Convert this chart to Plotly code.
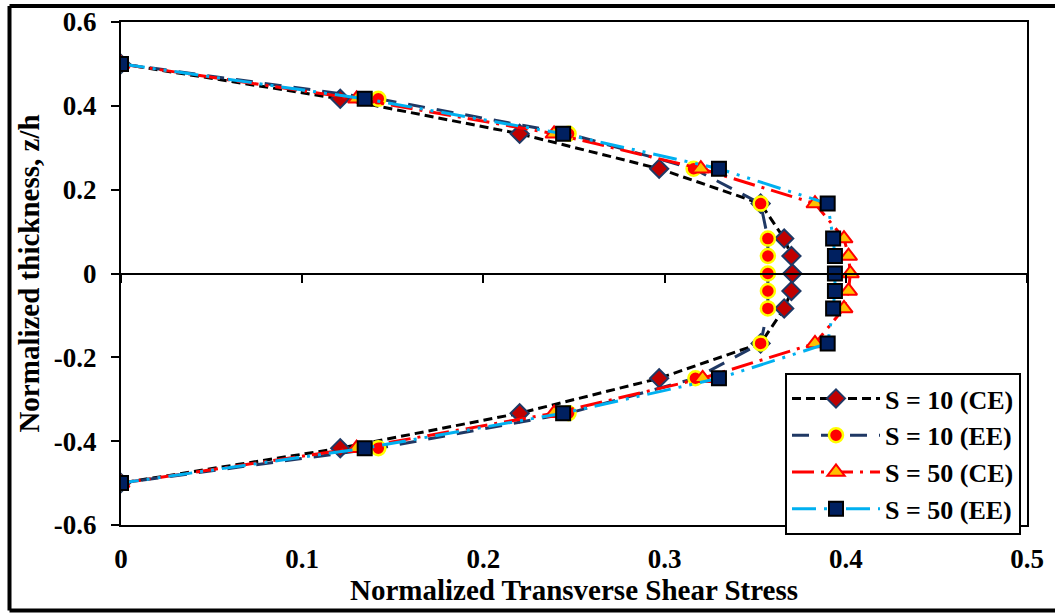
import plotly.graph_objects as go

# ---- data ----
z = [0.5, 0.4167, 0.3333, 0.25, 0.1667, 0.0833, 0.0417, 0.0,
     -0.0417, -0.0833, -0.1667, -0.25, -0.3333, -0.4167, -0.5]
s10_ce = [0.0, 0.121, 0.220, 0.297, 0.353, 0.366, 0.370, 0.3705,
          0.370, 0.366, 0.353, 0.297, 0.220, 0.121, 0.0]
s10_ee = [0.0, 0.142, 0.247, 0.316, 0.353, 0.357, 0.357, 0.357,
          0.357, 0.357, 0.353, 0.317, 0.247, 0.142, 0.0]
s50_ce = [0.0, 0.130, 0.239, 0.320, 0.383, 0.399, 0.4015, 0.4025,
          0.4015, 0.399, 0.383, 0.321, 0.239, 0.130, 0.0]
s50_ee = [0.0, 0.1345, 0.244, 0.330, 0.390, 0.393, 0.394, 0.394,
          0.394, 0.393, 0.390, 0.330, 0.244, 0.1345, 0.0]

names = ["S = 10 (CE)", "S = 10 (EE)", "S = 50 (CE)", "S = 50 (EE)"]
x_tickvals = [0, 0.1, 0.2, 0.3, 0.4, 0.5]
x_ticktext = ["0", "0.1", "0.2", "0.3", "0.4", "0.5"]
y_tickvals = [0.6, 0.4, 0.2, 0, -0.2, -0.4, -0.6]
y_ticktext = ["0.6", "0.4", "0.2", "0", "-0.2", "-0.4", "-0.6"]

FONT = "Liberation Serif"

fig = go.Figure()
fig.add_trace(go.Scatter(
    x=s10_ce, y=z, name=names[0], mode="lines+markers",
    line=dict(color="black", width=3, dash="9px,5px"),
    marker=dict(symbol="diamond", size=14, color="#C00000",
                line=dict(color="#1F3864", width=2))))
fig.add_trace(go.Scatter(
    x=s10_ee, y=z, name=names[1], mode="lines+markers",
    line=dict(color="#1F3864", width=3, dash="17px,12px"),
    marker=dict(symbol="circle", size=14, color="#FF0000",
                line=dict(color="#FFFF00", width=2.5))))
fig.add_trace(go.Scatter(
    x=s50_ce, y=z, name=names[2], mode="lines+markers",
    line=dict(color="#FF0000", width=3, dash="22px,7px,3px,7px"),
    marker=dict(symbol="triangle-up", size=15, color="#FFC000",
                line=dict(color="#FF0000", width=2))))
fig.add_trace(go.Scatter(
    x=s50_ee, y=z, name=names[3], mode="lines+markers",
    line=dict(color="#00B0F0", width=3, dash="24px,8px,3px,8px,3px,8px"),
    marker=dict(symbol="square", size=14, color="#002060",
                line=dict(color="black", width=2))))
# empty trace to materialise the zero-line axis with ticks
fig.add_trace(go.Scatter(x=[], y=[], xaxis="x2", showlegend=False,
                         hoverinfo="skip"))

fig.update_layout(
    width=1055, height=613,
    margin=dict(l=121, r=28, t=22, b=88),
    paper_bgcolor="white", plot_bgcolor="white",
    font=dict(family=FONT, color="black"),
    showlegend=True,
    legend=dict(
        x=(785 - 121) / 906, y=(525 - 373) / 503,
        xanchor="left", yanchor="top",
        bgcolor="white", bordercolor="black", borderwidth=2,
        font=dict(family=FONT, size=26, color="black", weight="bold"),
        itemwidth=88, tracegroupgap=0,
    ),
    xaxis=dict(
        range=[0, 0.5], tickvals=x_tickvals, ticktext=x_ticktext,
        showgrid=False, zeroline=False, automargin=False,
        showline=True, linecolor="black", linewidth=2, mirror=True,
        ticks="", ticklabelstandoff=9,
        tickfont=dict(family=FONT, size=27, color="black", weight="bold"),
        title=dict(text="Normalized Transverse Shear Stress",
                   font=dict(family=FONT, size=29, color="black", weight="bold"),
                   standoff=2),
    ),
    xaxis2=dict(
        range=[0, 0.5], tickvals=x_tickvals, overlaying="x",
        anchor="free", position=0.5, automargin=False,
        showgrid=False, zeroline=False, showticklabels=False,
        showline=True, linecolor="black", linewidth=2,
        ticks="outside", ticklen=8, tickwidth=2, tickcolor="black",
    ),
    yaxis=dict(
        range=[-0.6, 0.6], tickvals=y_tickvals, ticktext=y_ticktext,
        showgrid=False, zeroline=False, automargin=False,
        showline=True, linecolor="black", linewidth=2, mirror=True,
        ticks="outside", ticklen=8, tickwidth=2, tickcolor="black",
        ticklabelstandoff=9,
        tickfont=dict(family=FONT, size=27, color="black", weight="bold"),
        title=dict(text="Normalized thickness, z/h",
                   font=dict(family=FONT, size=29, color="black", weight="bold"),
                   standoff=6),
    ),
)

# outer chart frame (thick border around the whole chart)
frame = dict(type="line", xref="paper", yref="paper",
             line=dict(color="black", width=4))
x_left = (9.5 - 121) / 906
x_right = (1070 - 121) / 906
y_top = (525 - 6) / 503
y_bot = (525 - 610.5) / 503
fig.add_shape(**frame, x0=x_left, x1=x_right, y0=y_top, y1=y_top)
fig.add_shape(**frame, x0=x_left, x1=x_left, y0=y_bot, y1=y_top)
fig.add_shape(**frame, x0=x_left, x1=x_right, y0=y_bot, y1=y_bot)

fig.write_html("out.html")
